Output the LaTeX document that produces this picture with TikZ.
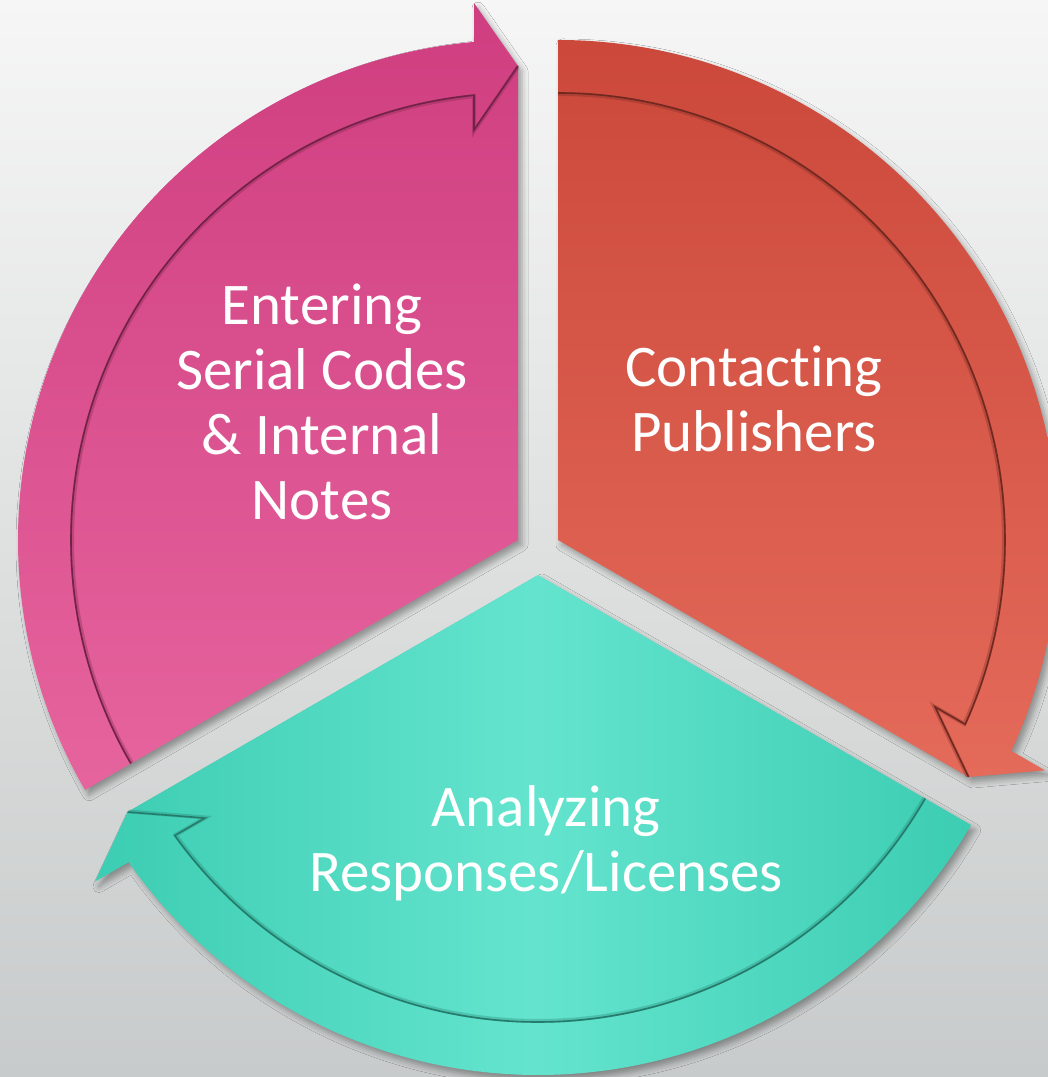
\documentclass[tikz,border=0pt]{standalone}
\usepackage{fontspec}
\setmainfont{Carlito}[Ligatures={NoCommon,NoRare,NoDiscretionary}]
\usetikzlibrary{shadows.blur}
\definecolor{bgtop}{RGB}{246,246,246}
\definecolor{bgbot}{RGB}{200,203,203}
\definecolor{pinkA}{RGB}{207,62,128}
\definecolor{pinkB}{RGB}{230,100,158}
\definecolor{redA}{RGB}{203,72,58}
\definecolor{redB}{RGB}{228,106,90}
\definecolor{tealA}{RGB}{60,205,178}
\definecolor{tealB}{RGB}{100,228,206}
% #1 apex, #2 arrow angle, #3 fill options, #4 rim colour
\newcommand{\cycseg}[4]{%
  \begin{scope}[shift={(#1)}]
    \shade[segshape,#3] (0,0) -- (#2+120:500)
      arc[start angle=#2+120, end angle=#2+5.05, radius=500]
      -- (#2+4.684:538.8) -- (#2:474) -- cycle;
    \draw[rimshade,#4] (#2+120:446)
      arc[start angle=#2+120, end angle=#2+5.65, radius=446]
      -- (#2+6.125:411.35) -- (#2:473);
    \draw[rim,#4] (#2+120:447)
      arc[start angle=#2+120, end angle=#2+5.65, radius=447]
      -- (#2+6.125:412.35) -- (#2:474);
  \end{scope}}
\begin{document}
\begin{tikzpicture}[x=1pt,y=1pt,
  segshape/.style={blur shadow={shadow xshift=4pt,shadow yshift=-5pt,shadow blur radius=6pt,shadow opacity=35}},
  rim/.style={line width=1.6pt,line join=miter},
  rimshade/.style={line width=4pt,opacity=0.3,line join=miter},
  segtext/.style={text=white,align=center,font=\fontsize{59}{65}\selectfont,inner sep=0pt,anchor=base}]
\clip (0,0) rectangle (1048,1077);
\shade[top color=bgtop,bottom color=bgbot] (0,0) rectangle (1048,1077);
\coordinate (pinkapex) at (518,537);
\coordinate (redapex) at (558,537);
\coordinate (tealapex) at (538,502);
\cycseg{pinkapex}{90}{top color=pinkA,bottom color=pinkB}{pinkA!55!black}
\cycseg{redapex}{-30}{top color=redA,bottom color=redB}{redA!55!black}
\cycseg{tealapex}{210}{left color=tealA,right color=tealA,middle color=tealB}{tealA!60!black}
\node[segtext] (enter) at (322,557) {Entering\\Serial Codes\\\& Internal\\Notes};
\node[segtext] (contact) at (754,625) {Contacting\\Publishers};
\node[segtext] (analyze) at (546,185) {Analyzing\\Responses/Licenses};
\end{tikzpicture}
\end{document}
